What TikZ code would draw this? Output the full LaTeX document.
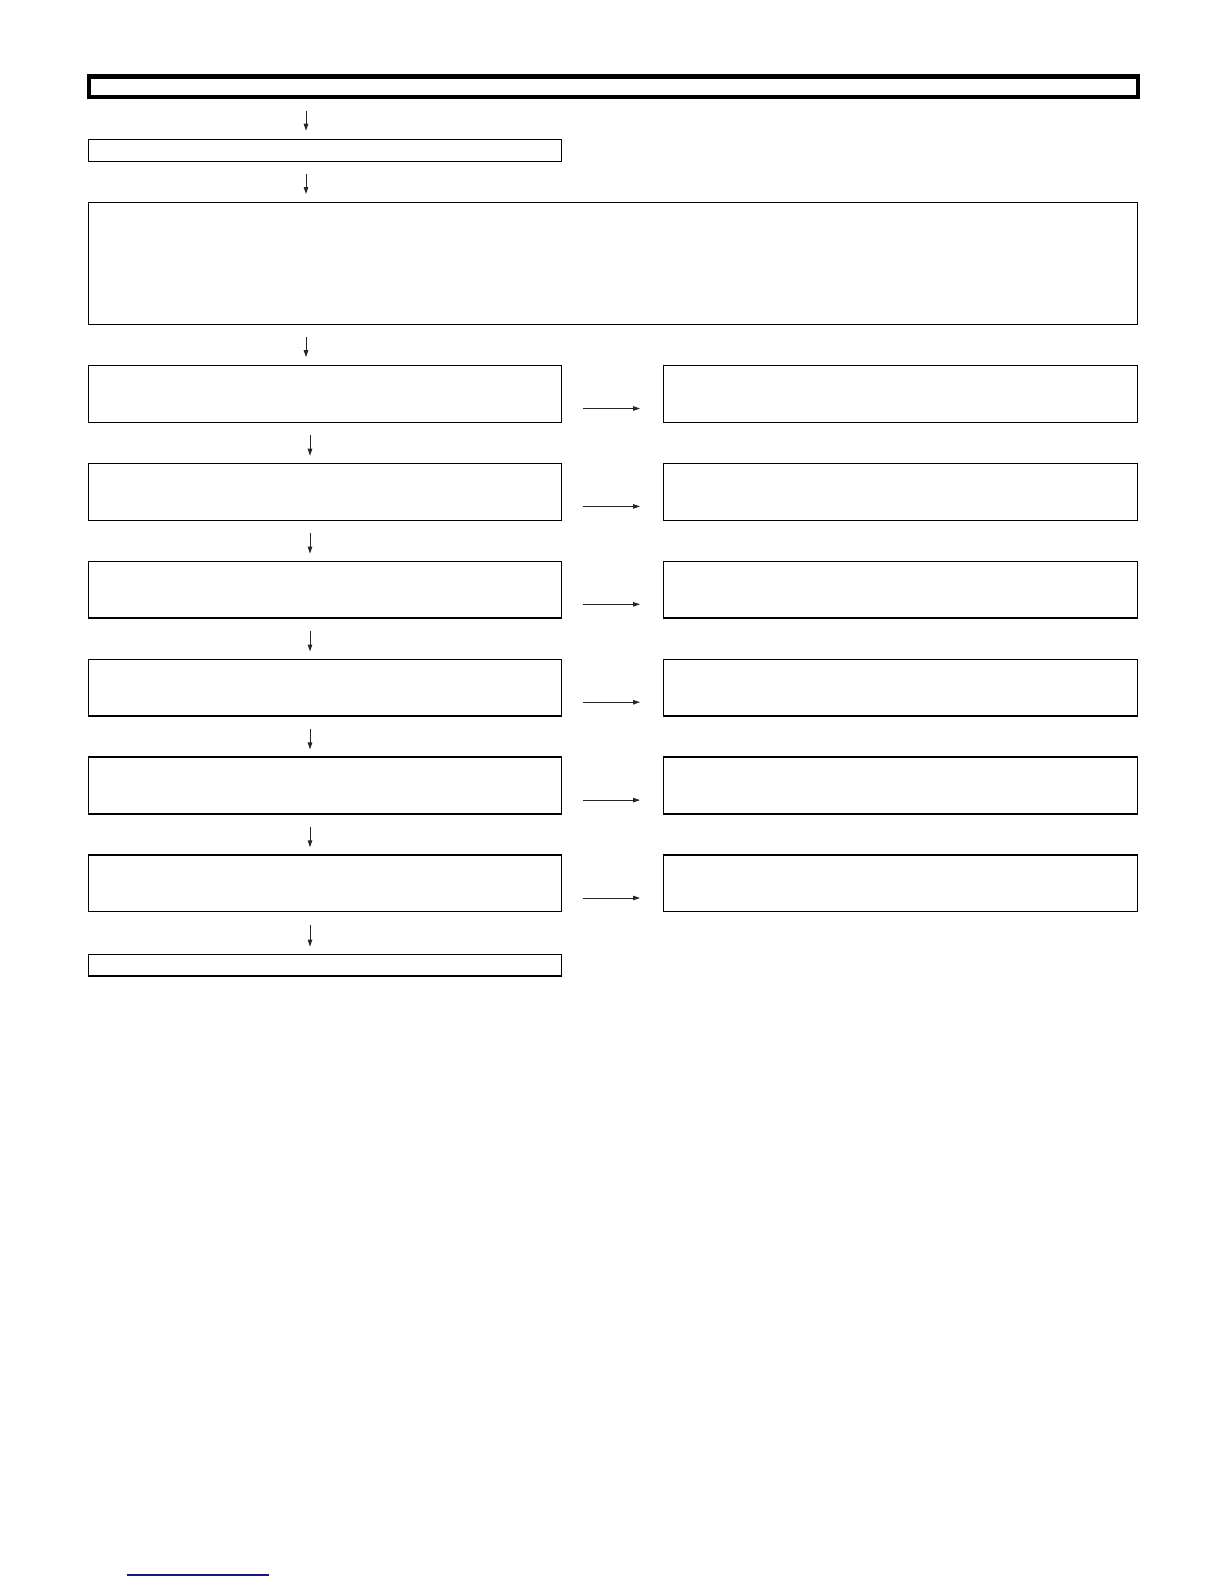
\documentclass[tikz,border=0pt]{standalone}
\usetikzlibrary{arrows.meta}
\definecolor{linkblue}{RGB}{24,24,128}
\begin{document}
\begin{tikzpicture}[x=1pt,y=-1pt,
  thinbox/.style={draw=black, line width=1.3pt, rectangle, inner sep=0pt, outer sep=0pt, anchor=north west},
  titlebox/.style={draw=black, line width=4.7pt, rectangle, inner sep=0pt, outer sep=0pt, anchor=north west},
  arr/.style={draw=black!85, line width=1pt, -{Triangle[length=7pt,width=4.5pt]}},
  leftbox/.style={thinbox, minimum width=473pt, minimum height=56.8pt},
  rightbox/.style={thinbox, minimum width=474pt, minimum height=56.8pt}
]
\fill[white] (0,0) rectangle (1224,1584);
\useasboundingbox (0,0) rectangle (1224,1584);

% title
\node[titlebox, minimum width=1049pt, minimum height=20.7pt] (t) at (89,76.3) {};
% second box
\node[thinbox, minimum width=473pt, minimum height=22pt] (b1) at (88.5,139.3) {};
% large box
\node[thinbox, minimum width=1048.8pt, minimum height=122pt] (b2) at (88.5,202.3) {};

% rows
\foreach \i in {1,...,6}{
  \pgfmathsetmacro{\yy}{365.5+97.9*(\i-1)}
  \node[leftbox] (L\i) at (88.5,\yy) {};
  \node[rightbox] (R\i) at (663.3,\yy) {};
}
% final box
\node[thinbox, minimum width=473pt, minimum height=21.7pt] (b3) at (88.5,954.3) {};

\coordinate (ax1) at (306,0);
\coordinate (ax2) at (310,0);

% vertical arrows
\draw[arr, shorten <=13.7pt, shorten >=8.6pt] (t.south -| ax1) -- (b1.north -| ax1);
\draw[arr, shorten <=12.7pt, shorten >=8.3pt] (b1.south -| ax1) -- (b2.north -| ax1);
\draw[arr, shorten <=12.4pt, shorten >=8.3pt] (b2.south -| ax1) -- (L1.north -| ax1);
\draw[arr, shorten <=12.7pt, shorten >=7.7pt] (L1.south -| ax2) -- (L2.north -| ax2);
\draw[arr, shorten <=12.7pt, shorten >=7.7pt] (L2.south -| ax2) -- (L3.north -| ax2);
\draw[arr, shorten <=12.7pt, shorten >=7.7pt] (L3.south -| ax2) -- (L4.north -| ax2);
\draw[arr, shorten <=12.7pt, shorten >=7.7pt] (L4.south -| ax2) -- (L5.north -| ax2);
\draw[arr, shorten <=12.7pt, shorten >=7.7pt] (L5.south -| ax2) -- (L6.north -| ax2);
\draw[arr, shorten <=12.7pt, shorten >=7.7pt] (L6.south -| ax2) -- (b3.north -| ax2);

% horizontal arrows
\foreach \i in {1,...,6}{
  \draw[arr, shorten <=21.2pt, shorten >=23.3pt] ([yshift=-14.6pt]L\i.east) -- ([yshift=-14.6pt]R\i.west);
}

% link underline
\draw[linkblue, line width=1.2pt] (126.7,1575) -- (269,1575);
\end{tikzpicture}
\end{document}
